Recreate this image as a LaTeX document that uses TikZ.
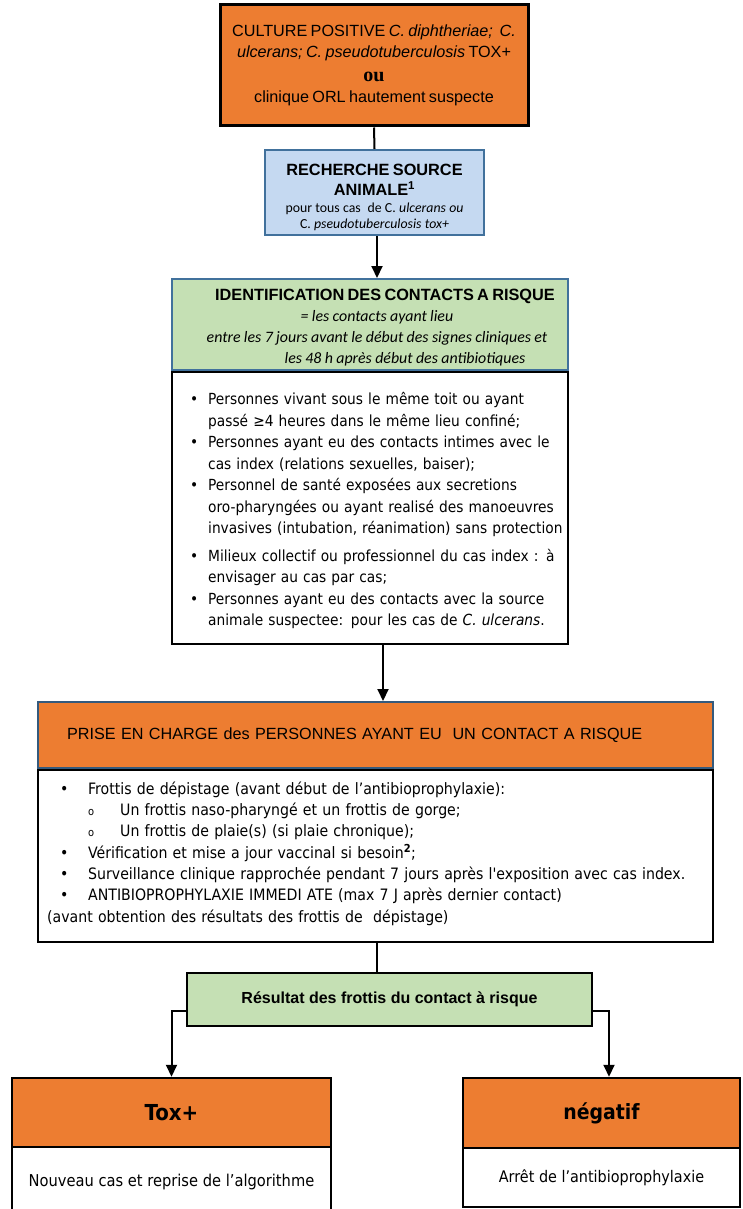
\documentclass[tikz,border=0pt]{standalone}
\usepackage{fontspec}
\setmainfont{Liberation Sans}
\newfontfamily\tahoma{DejaVu Sans Condensed}
\newfontfamily\calib{Carlito}
\newfontfamily\timesf{Liberation Serif}
\usetikzlibrary{arrows.meta,positioning}
\definecolor{boxorange}{HTML}{ED7D31}
\definecolor{boxblue}{HTML}{C5D9F1}
\definecolor{boxgreen}{HTML}{C5E0B4}
\definecolor{edgeblue}{HTML}{41719C}
\newcommand{\bul}{\par\hangindent=24pt\hangafter=1\noindent\makebox[24pt][l]{\hspace*{6pt}•}}
\tikzset{
  flowbox/.style={draw,rectangle,inner sep=0pt,align=center},
  orangebox/.style={flowbox,fill=boxorange,draw=black,line width=2.5pt},
  bluebox/.style={flowbox,fill=boxblue,draw=edgeblue,line width=2pt},
  greenbox/.style={flowbox,fill=boxgreen,draw=edgeblue,line width=2pt},
  whitebox/.style={flowbox,fill=white,draw=black,line width=2.2pt},
  boxtext/.style={inner sep=0pt,align=center,anchor=north},
  listtext/.style={inner sep=0pt,align=left,font={\tahoma\fontsize{15.3}{21.5}\selectfont}},
  flowarrow/.style={-{Triangle[width=11pt,length=12pt]},line width=2pt},
  flowline/.style={line width=2pt}
}
\begin{document}
\begin{tikzpicture}[x=1pt,y=-1pt]
  \useasboundingbox (0,0) rectangle (742,1209);
  \clip (0,0) rectangle (742,1209);
  \fill[white] (0,0) rectangle (742,1209);
  % top of the algorithm
  \node[orangebox,line width=3pt,minimum width=308pt,minimum height=121pt,text width=306pt] (culture) at (374,65.5)
    {{\fontsize{16.2}{21}\selectfont CULTURE POSITIVE \textit{C. diphtheriae;\ \ C.}\\ \textit{ulcerans; C. pseudotuberculosis} TOX+\par}
     {\timesf\bfseries\fontsize{20}{24}\selectfont ou\par}
     {\fontsize{16.2}{21}\selectfont clinique ORL hautement suspecte\par}};
  \node[bluebox,minimum width=219pt,minimum height=85pt] (source) at (374.5,192.5) {};
  \node[boxtext,text width=215pt] (sourcetext) at (374.5,164)
    {{\bfseries\fontsize{16.3}{20}\selectfont RECHERCHE SOURCE\\ ANIMALE\smash{\textsuperscript{1}}\par}\vspace{1.5pt}
     {\calib\fontsize{13.8}{15.5}\selectfont pour tous cas\ \ de C. \textit{ulcerans ou}\\ C. \textit{pseudotuberculosis tox+}\par}};
  \node[greenbox,minimum width=396pt,minimum height=91pt] (ident) at (370,324.5) {};
  \node[boxtext,text width=392pt] (identtext) at (370,289)
    {{\bfseries\fontsize{16.3}{21}\selectfont\hspace*{30pt}IDENTIFICATION DES CONTACTS A RISQUE\par}
     {\calib\itshape\fontsize{15.9}{21}\selectfont\hspace*{14pt}= les contacts ayant lieu\\
      \hspace*{14pt}entre les 7 jours avant le début des signes cliniques et\\
      \hspace*{70pt}les 48 h après début des antibiotiques\par}};
  \node[whitebox,line width=2.5pt,minimum width=396pt,minimum height=272pt] (contacts) at (370,508) {};
  \node[listtext,text width=400pt,anchor=north west] (contactlist) at (184,383)
    {\bul Personnes vivant sous le même toit ou ayant\newline passé ≥4 heures dans le même lieu confiné;
     \bul Personnes ayant eu des contacts intimes avec le\newline cas index (relations sexuelles, baiser);
     \bul Personnel de santé exposées aux secretions\newline oro-pharyngées ou ayant realisé des manoeuvres\newline invasives (intubation, réanimation) sans protection
     \par\vspace{6pt}
     \bul Milieux collectif ou professionnel du cas index : à\newline envisager au cas par cas;
     \bul Personnes ayant eu des contacts avec la source\newline animale suspectee: pour les cas de \textit{C. ulcerans}.\par};
  % prise en charge
  \node[bluebox,fill=boxorange,draw=edgeblue!80!black,minimum width=675pt,minimum height=66pt,
    text width=617pt,inner xsep=29pt,align=left,font={\fontsize{16.2}{17}\selectfont}] (prise) at (375.5,735)
    {PRISE EN CHARGE des PERSONNES AYANT EU\ \ UN CONTACT A RISQUE};
  \node[whitebox,minimum width=675pt,minimum height=172pt] (prisebody) at (375.5,856) {};
  \node[listtext,text width=680pt,anchor=north west,font={\tahoma\fontsize{15.7}{21.3}\selectfont}] (priselist) at (47,781.5)
    {\hspace*{13pt}\makebox[28pt][l]{•}Frottis de dépistage (avant début de l’antibioprophylaxie):\\
     \hspace*{41pt}\makebox[32pt][l]{\fontsize{11}{10}\selectfont o}Un frottis naso-pharyngé et un frottis de gorge;\\
     \hspace*{41pt}\makebox[32pt][l]{\fontsize{11}{10}\selectfont o}Un frottis de plaie(s) (si plaie chronique);\\
     \hspace*{13pt}\makebox[28pt][l]{•}Vérification et mise a jour vaccinal si besoin\textsuperscript{\bfseries 2};\\
     \hspace*{13pt}\makebox[28pt][l]{•}Surveillance clinique rapprochée pendant 7 jours après l'exposition avec cas index.\\
     \hspace*{13pt}\makebox[28pt][l]{•}ANTIBIOPROPHYLAXIE IMMEDI ATE (max 7 J après dernier contact)\\
     (avant obtention des résultats des frottis de\ \ dépistage)};
  % results
  \node[greenbox,draw=black,minimum width=405pt,minimum height=53pt,font={\bfseries\fontsize{16}{16}\selectfont}] (result) at (389.5,999.5)
    {Résultat des frottis du contact à risque};
  \node[orangebox,minimum width=319pt,minimum height=69pt,font={\tahoma\bfseries\fontsize{22}{24}\selectfont}] (toxhead) at (171.5,1112.5) {Tox+};
  \node[whitebox,line width=2.5pt,minimum width=319pt,minimum height=70pt,font={\tahoma\fontsize{16.3}{16}\selectfont}] (toxbody) at (171.5,1182)
    {Nouveau cas et reprise de l’algorithme};
  \node[orangebox,minimum width=277pt,minimum height=70pt,font={\tahoma\bfseries\fontsize{21}{24}\selectfont}] (neghead) at (601.5,1113) {négatif};
  \node[whitebox,line width=2.5pt,minimum width=277pt,minimum height=59pt,font={\tahoma\fontsize{16}{16}\selectfont}] (negbody) at (601.5,1177.5)
    {Arrêt de l’antibioprophylaxie};
  % connectors
  \draw[flowline] (culture.south) -- (source.north);
  \draw[flowarrow] (377,0 |- source.south) -- (377,0 |- ident.north);
  \draw[flowarrow] (383,0 |- contacts.south) -- (383,0 |- prise.north);
  \draw[flowline] (377,0 |- prisebody.south) -- (377,0 |- result.north);
  \draw[flowarrow] (result.west |- 0,1011) -| (toxhead.north);
  \draw[flowarrow] (result.east |- 0,1011) -| (neghead.north -| 609,0);
\end{tikzpicture}
\end{document}
